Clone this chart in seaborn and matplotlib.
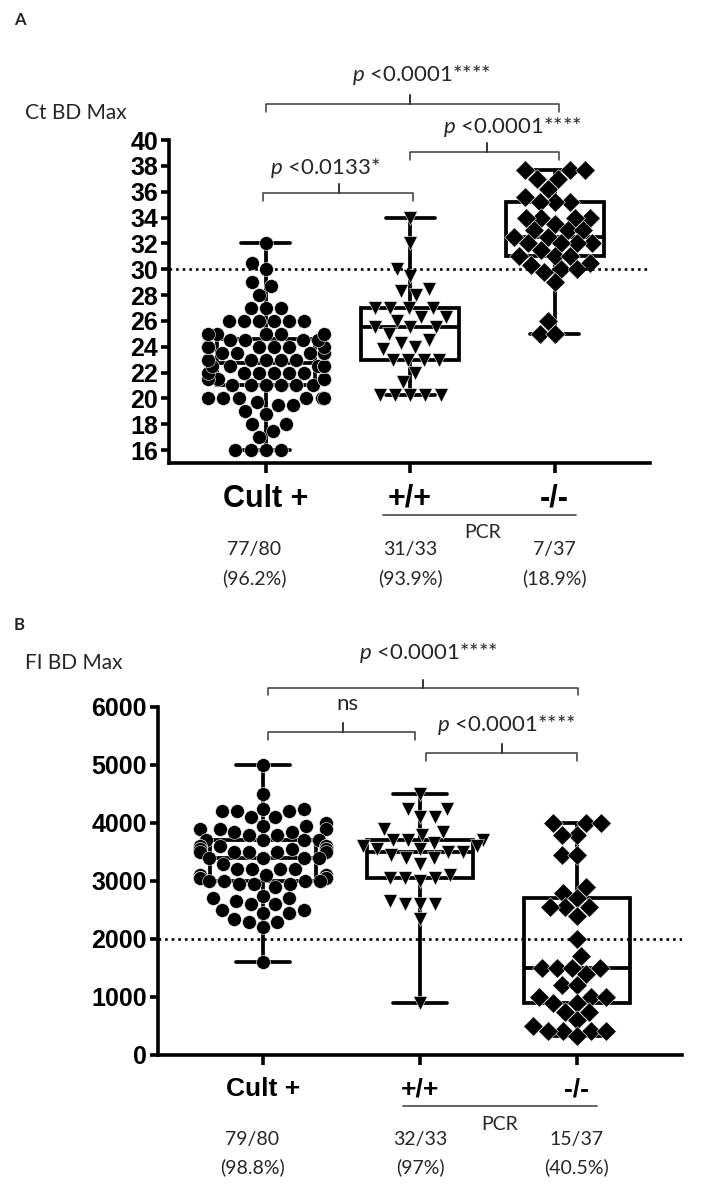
import matplotlib
matplotlib.use("Agg")
import matplotlib.pyplot as plt
import matplotlib.transforms as mtransforms
import pandas as pd
import seaborn as sns

W, H = 703, 1194

GROUPS = ["Cult +", "+/+", "-/-"]
MARKERS = ["o", "v", "D"]

# Panel A - Ct BD Max
ct_cult = [16.0, 16.0, 16.0, 16.0, 17.0, 17.5, 18.0, 18.0,
           18.8, 19.0, 19.5, 19.5, 19.7,
           20.0, 20.0, 20.0, 20.0, 20.0, 20.0,
           21.0, 21.0, 21.0, 21.0, 21.0, 21.0,
           21.5, 21.5, 21.5, 21.5,
           22.0, 22.0, 22.0, 22.0, 22.0, 22.0,
           22.5, 22.5, 22.5, 22.5, 22.5,
           23.0, 23.0, 23.0, 23.0, 23.0,
           23.5, 23.5, 23.5, 23.5, 23.5,
           24.0, 24.0, 24.0, 24.0, 24.0, 24.0,
           24.5, 24.5, 24.5, 24.5,
           25.0, 25.0, 25.0, 25.0, 25.0,
           26.0, 26.0, 26.0, 26.0, 26.0, 26.0,
           27.0, 27.0, 27.0,
           28.0, 28.7, 29.0,
           30.0, 30.5, 32.0]
ct_pos = [34.0, 32.0, 30.0, 29.5, 28.5, 28.3, 28.0,
          27.0, 27.0, 27.0, 27.0, 26.3, 26.3, 26.0,
          25.5, 25.5, 25.5, 25.0, 24.5, 24.3, 24.0, 23.8,
          23.0, 23.0, 23.0, 23.0, 22.0, 21.3,
          20.3, 20.3, 20.3, 20.3, 20.3]
ct_neg = [37.7, 37.7, 37.7, 37.0, 37.0, 36.2, 35.6,
          35.2, 35.2, 35.2, 34.0, 34.0, 34.0, 34.0,
          33.5, 33.0, 33.0, 33.0, 32.5, 32.5,
          32.0, 32.0, 32.0, 32.0, 31.5, 31.0, 31.0, 31.0,
          30.5, 30.3, 30.0, 30.0, 29.8, 29.0, 26.0, 25.0, 25.0]

# Panel B - FI BD Max
fi_cult = [5000, 4500,
           4250, 4250, 4200, 4200, 4200, 4100, 4100,
           4000, 3950, 3950, 3900, 3900, 3900,
           3850, 3850, 3800, 3800,
           3700, 3700, 3700, 3700,
           3600, 3600, 3600, 3600, 3600,
           3550, 3550, 3550, 3550, 3550,
           3500, 3500, 3500, 3500, 3500,
           3400, 3400, 3400, 3400, 3300,
           3200, 3200, 3200, 3200,
           3100, 3100, 3100, 3100, 3100,
           3050, 3050, 3050, 3050, 3050,
           3000, 3000, 3000, 3000,
           2950, 2950, 2950, 2900,
           2750, 2700, 2700, 2650, 2600, 2600,
           2500, 2500, 2450, 2450,
           2350, 2300, 2300, 2200, 1600]
fi_pos = [4500, 4250, 4250, 4100, 4100, 3900, 3850, 3800,
          3700, 3700, 3700, 3650, 3600, 3600, 3550, 3550,
          3500, 3500, 3450, 3400, 3400, 3300, 3100,
          3050, 3050, 3050, 3000, 2650, 2600, 2600, 2600, 2350, 900]
fi_neg = [4000, 4000, 4000, 3800, 3800, 3450, 3450,
          2900, 2800, 2700, 2550, 2550, 2550, 2400, 2000,
          1700, 1500, 1500, 1500, 1500, 1400, 1200, 1200,
          1000, 1000, 1000, 900, 900, 750, 750, 600, 500,
          420, 420, 420, 420, 330]

ct_frac = ["77/80", "31/33", "7/37"]
ct_pct = ["(96.2%)", "(93.9%)", "(18.9%)"]
fi_frac = ["79/80", "32/33", "15/37"]
fi_pct = ["(98.8%)", "(97%)", "(40.5%)"]

sns.set_theme(style="ticks")
plt.rcParams["font.family"] = ["Lato", "DejaVu Sans"]
plt.rcParams["mathtext.fontset"] = "custom"
plt.rcParams["mathtext.rm"] = "Lato"
plt.rcParams["mathtext.it"] = "Lato:italic"

BOLD = ["Liberation Sans", "DejaVu Sans"]
GREY = "#3a3a3a"


def fy(py):
    return 1 - py / H


def make_df(groups_values):
    rows = []
    for g, vals in zip(GROUPS, groups_values):
        for v in vals:
            rows.append({"group": g, "value": v})
    return pd.DataFrame(rows)


def bracket(ax, tr, x0, x1, xm, py, drop=8, rise=9):
    y = fy(py)
    d = drop / H
    r = rise / H
    ax.plot([x0, x0, xm, xm, xm, x1, x1],
            [y - d, y, y, y + r, y, y, y - d],
            transform=tr, clip_on=False, color=GREY, lw=1.1)


def draw_panel(ax, df, ylim, yticks, thresh, msize, tick_fs, cat_fs, cat_pad):
    sns.boxplot(data=df, x="group", y="value", order=GROUPS, whis=(0, 100),
                width=0.68, showfliers=False, color="white", linecolor="black",
                linewidth=2.7, ax=ax)
    for g, mk in zip(GROUPS, MARKERS):
        sub = df[df["group"] == g]
        sns.swarmplot(data=sub, x="group", y="value", order=GROUPS, marker=mk,
                      color="black", size=msize, edgecolor="white", linewidth=0.4,
                      warn_thresh=1.0, ax=ax, zorder=3)
    ax.axhline(thresh, color="black", lw=1.9, ls=(0, (1, 1.5)), zorder=4)
    ax.set_ylim(*ylim)
    ax.set_yticks(yticks)
    ax.set_xticks([0, 1, 2])
    ax.set_xticklabels(GROUPS)
    ax.set_xlabel("")
    ax.set_ylabel("")
    sns.despine(ax=ax)
    for s in ["left", "bottom"]:
        ax.spines[s].set_linewidth(2.6)
        ax.spines[s].set_color("black")
    ax.tick_params(axis="y", length=6, width=2.6, pad=2, colors="black")
    ax.tick_params(axis="x", length=7, width=2.6, pad=cat_pad, colors="black")
    for lab in ax.get_yticklabels():
        lab.set_family(BOLD)
        lab.set_fontweight("bold")
        lab.set_fontsize(tick_fs)
    for lab in ax.get_xticklabels():
        lab.set_family(BOLD)
        lab.set_fontweight("bold")
        lab.set_fontsize(cat_fs)


fig = plt.figure(figsize=(W / 100, H / 100), dpi=100)

# ---------------- Panel A ----------------
ax_a = fig.add_axes([169 / W, fy(463), (650 - 169) / W, (463 - 140) / H])
df_a = make_df([ct_cult, ct_pos, ct_neg])
draw_panel(ax_a, df_a, (15, 40), range(16, 41, 2), 30, 10, 18, 22, 8)
ax_a.set_xlim(-0.67, 2.66)
tr_a = mtransforms.blended_transform_factory(ax_a.transData, fig.transFigure)

fig.text(14 / W, fy(20), "A", fontsize=12, fontweight="bold", va="center")
fig.text(25 / W, fy(113), "Ct BD Max", fontsize=15, va="center")

bracket(ax_a, tr_a, 0.0, 2.03, 1.0, 104)
ax_a.text(1.08, fy(75), r"$p$ <0.0001****", transform=tr_a, ha="center", va="center", fontsize=16)
bracket(ax_a, tr_a, 1.0, 2.03, 1.53, 152)
ax_a.text(1.71, fy(127), r"$p$ <0.0001****", transform=tr_a, ha="center", va="center", fontsize=16)
bracket(ax_a, tr_a, -0.02, 1.02, 0.51, 193)
ax_a.text(0.41, fy(168), r"$p$ <0.0133*", transform=tr_a, ha="center", va="center", fontsize=16)

ax_a.plot([0.81, 2.145], [fy(515), fy(515)], transform=tr_a, clip_on=False, color="#555555", lw=1.3)
ax_a.text(1.5, fy(532), "PCR", transform=tr_a, ha="center", va="center", fontsize=14)
for i in range(3):
    ax_a.text(i - 0.08 if i == 0 else i, fy(550), ct_frac[i], transform=tr_a, ha="center", va="center", fontsize=14)
    ax_a.text(i - 0.08 if i == 0 else i, fy(578), ct_pct[i], transform=tr_a, ha="center", va="center", fontsize=14)

# ---------------- Panel B ----------------
ax_b = fig.add_axes([158 / W, fy(1055), (682 - 158) / W, (1055 - 707) / H])
df_b = make_df([fi_cult, fi_pos, fi_neg])
draw_panel(ax_b, df_b, (0, 6000), range(0, 6001, 1000), 2000, 10, 18, 19, 9)
ax_b.set_xlim(-0.67, 2.67)
tr_b = mtransforms.blended_transform_factory(ax_b.transData, fig.transFigure)

fig.text(14 / W, fy(625), "B", fontsize=12, fontweight="bold", va="center")
fig.text(25 / W, fy(663), "FI BD Max", fontsize=15, va="center")

bracket(ax_b, tr_b, 0.03, 2.01, 1.02, 688, drop=7, rise=8)
ax_b.text(1.05, fy(653), r"$p$ <0.0001****", transform=tr_b, ha="center", va="center", fontsize=16)
bracket(ax_b, tr_b, 0.03, 0.97, 0.51, 732)
ax_b.text(0.535, fy(704), "ns", transform=tr_b, ha="center", va="center", fontsize=16)
bracket(ax_b, tr_b, 1.04, 2.0, 1.52, 753)
ax_b.text(1.55, fy(725), r"$p$ <0.0001****", transform=tr_b, ha="center", va="center", fontsize=16)

ax_b.plot([0.89, 2.13], [fy(1106), fy(1106)], transform=tr_b, clip_on=False, color="#555555", lw=1.3)
ax_b.text(1.51, fy(1125), "PCR", transform=tr_b, ha="center", va="center", fontsize=14)
for i in range(3):
    ax_b.text(i - 0.07 if i == 0 else i, fy(1140), fi_frac[i], transform=tr_b, ha="center", va="center", fontsize=14)
    ax_b.text(i - 0.07 if i == 0 else i, fy(1167), fi_pct[i], transform=tr_b, ha="center", va="center", fontsize=14)

fig.savefig("out.png", dpi=100)
